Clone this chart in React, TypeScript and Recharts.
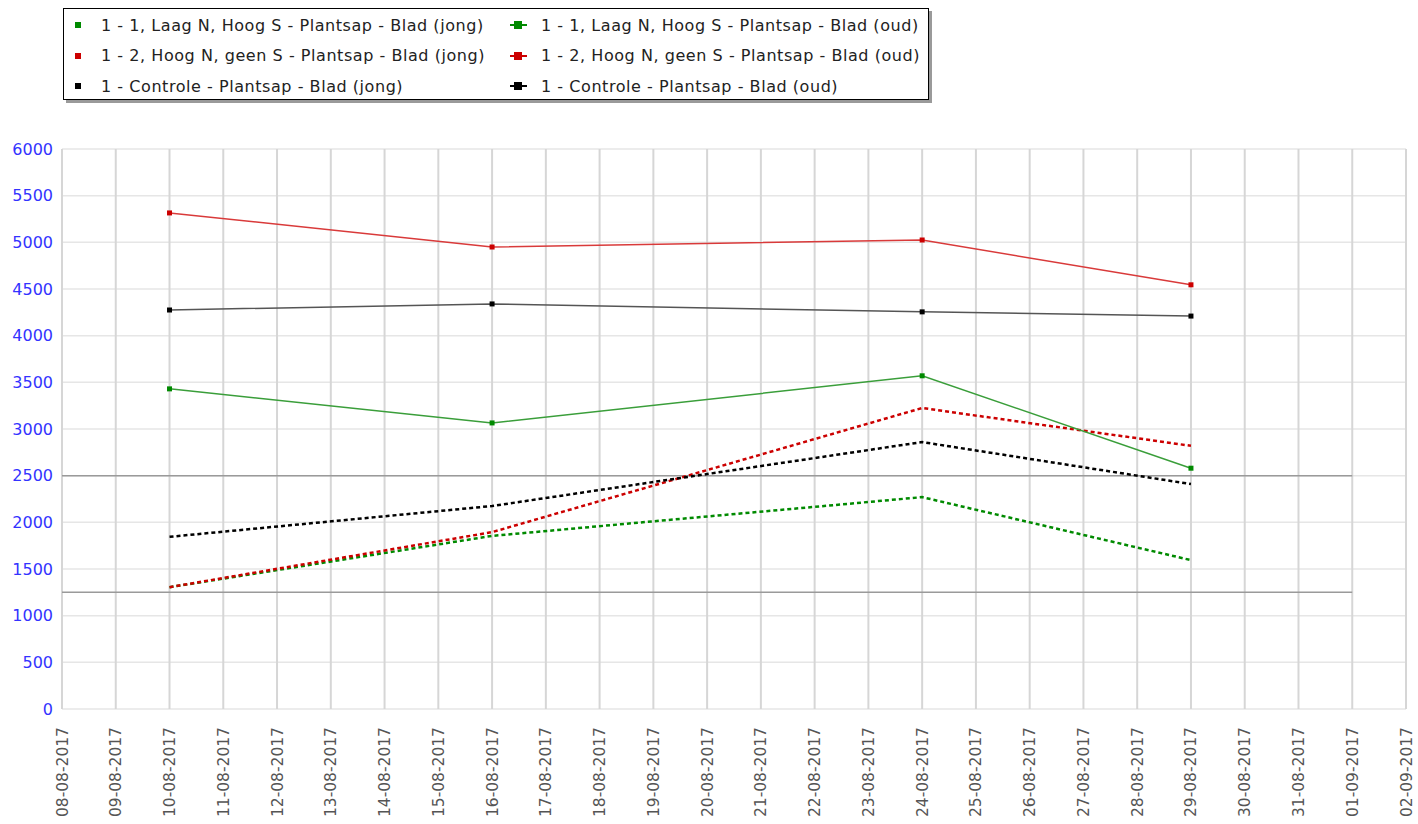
import React from "react";
import { CartesianGrid, Line, LineChart, ReferenceLine, XAxis, YAxis } from "recharts";

const DATE_LABELS = [
  "08-08-2017", "09-08-2017", "10-08-2017", "11-08-2017", "12-08-2017", "13-08-2017",
  "14-08-2017", "15-08-2017", "16-08-2017", "17-08-2017", "18-08-2017", "19-08-2017",
  "20-08-2017", "21-08-2017", "22-08-2017", "23-08-2017", "24-08-2017", "25-08-2017",
  "26-08-2017", "27-08-2017", "28-08-2017", "29-08-2017", "30-08-2017", "31-08-2017",
  "01-09-2017", "02-09-2017",
];
const MEASURE_DATES = ["10-08-2017", "16-08-2017", "24-08-2017", "29-08-2017"];
const Y_TICKS = [0, 500, 1000, 1500, 2000, 2500, 3000, 3500, 4000, 4500, 5000, 5500, 6000];

const LAAG_JONG = [3430, 3065, 3570, 2580];
const HOOG_JONG = [5315, 4950, 5025, 4545];
const CONTROLE_JONG = [4275, 4340, 4255, 4210];
const LAAG_OUD = [1305, 1855, 2270, 1595];
const HOOG_OUD = [1305, 1895, 3225, 2820];
const CONTROLE_OUD = [1845, 2175, 2860, 2410];

const REF_LINES = [2500, 1250];
const REF_END = "01-09-2017";

const data = MEASURE_DATES.map((d, i) => ({
  x: DATE_LABELS.indexOf(d),
  laagJong: LAAG_JONG[i],
  hoogJong: HOOG_JONG[i],
  controleJong: CONTROLE_JONG[i],
  laagOud: LAAG_OUD[i],
  hoogOud: HOOG_OUD[i],
  controleOud: CONTROLE_OUD[i],
}));

const GREEN = "#008a00";
const RED = "#cc0000";
const BLACK = "#000000";
const FONT = "'DejaVu Sans', sans-serif";

const squareDot = (color: string) => (p: any) => (
  <rect key={p.index} x={p.cx - 2.5} y={p.cy - 2.5} width={5} height={5} fill={color} />
);

const XTick = (p: any) => (
  <text
    x={0}
    y={0}
    transform={`translate(${p.x + 5.5},${p.y + 10}) rotate(-90)`}
    textAnchor="end"
    fontSize={15.5}
    fontFamily={FONT}
    fill="#555"
  >
    {DATE_LABELS[p.payload.value]}
  </text>
);

const LEGEND = [
  { label: "1 - 1, Laag N, Hoog S - Plantsap - Blad (jong)", color: GREEN, line: false },
  { label: "1 - 1, Laag N, Hoog S - Plantsap - Blad (oud)", color: GREEN, line: true },
  { label: "1 - 2, Hoog N, geen S - Plantsap - Blad (jong)", color: RED, line: false },
  { label: "1 - 2, Hoog N, geen S - Plantsap - Blad (oud)", color: RED, line: true },
  { label: "1 - Controle - Plantsap - Blad (jong)", color: BLACK, line: false },
  { label: "1 - Controle - Plantsap - Blad (oud)", color: BLACK, line: true },
];

function Legend() {
  return (
    <div
      style={{
        position: "absolute",
        left: 63,
        top: 8,
        width: 864,
        height: 90,
        border: "1px solid #000",
        boxShadow: "3px 3px 0 #9a9a9a",
        background: "#fff",
        fontFamily: FONT,
        fontSize: 16,
        letterSpacing: 0.55,
        color: "#222",
      }}
    >
      {LEGEND.map((it, i) => {
        const col = i % 2;
        const row = Math.floor(i / 2);
        const left = col === 0 ? 0 : 440;
        return (
          <div
            key={i}
            style={{ position: "absolute", left, top: 6 + row * 30.5, height: 20, display: "flex", alignItems: "center" }}
          >
            <div style={{ width: 37, position: "relative", height: 20 }}>
              {it.line ? (
                <>
                  <div style={{ position: "absolute", left: 6, top: 9, width: 17, height: 2, background: it.color }} />
                  <div style={{ position: "absolute", left: 10, top: 6, width: 8, height: 8, background: it.color }} />
                </>
              ) : (
                <div style={{ position: "absolute", left: 11, top: 7, width: 6, height: 6, background: it.color }} />
              )}
            </div>
            <span style={{ whiteSpace: "nowrap" }}>{it.label}</span>
          </div>
        );
      })}
    </div>
  );
}

export default function App() {
  return (
    <div style={{ position: "absolute", left: 0, top: 0, width: 1418, height: 824, background: "#fff" }}>
      <LineChart
        width={1418}
        height={824}
        data={data}
        margin={{ top: 149, right: 12, left: 0, bottom: 0 }}
      >
        <CartesianGrid horizontal={true} vertical={false} stroke="#e6e6e6" strokeWidth={1.5} />
        <CartesianGrid horizontal={false} vertical={true} stroke="#d6d6d6" strokeWidth={2} />
        <XAxis
          dataKey="x"
          type="number"
          domain={[0, DATE_LABELS.length - 1]}
          ticks={DATE_LABELS.map((_, i) => i)}
          interval={0}
          axisLine={false}
          tickLine={false}
          height={115}
          tick={<XTick />}
        />
        <YAxis
          type="number"
          domain={[0, 6000]}
          ticks={Y_TICKS}
          interval={0}
          axisLine={false}
          tickLine={false}
          width={62}
          tickMargin={3}
          tick={{ fill: "#3333ff", fontSize: 16, fontFamily: FONT }}
        />
        {REF_LINES.map((v) => (
          <ReferenceLine
            key={v}
            segment={[
              { x: 0, y: v },
              { x: DATE_LABELS.indexOf(REF_END), y: v },
            ]}
            stroke="#9a9a9a"
            strokeWidth={1.5}
          />
        ))}
        <Line dataKey="laagOud" stroke={GREEN} strokeWidth={2.5} strokeDasharray="4 3" dot={false} isAnimationActive={false} />
        <Line dataKey="hoogOud" stroke={RED} strokeWidth={2.5} strokeDasharray="4 3" dot={false} isAnimationActive={false} />
        <Line dataKey="controleOud" stroke={BLACK} strokeWidth={2.5} strokeDasharray="4 3" dot={false} isAnimationActive={false} />
        <Line dataKey="laagJong" stroke="#3a9e3a" strokeWidth={1.5} dot={squareDot(GREEN)} isAnimationActive={false} />
        <Line dataKey="hoogJong" stroke="#d93a3a" strokeWidth={1.5} dot={squareDot(RED)} isAnimationActive={false} />
        <Line dataKey="controleJong" stroke="#555" strokeWidth={1.5} dot={squareDot(BLACK)} isAnimationActive={false} />
      </LineChart>
      <Legend />
    </div>
  );
}
